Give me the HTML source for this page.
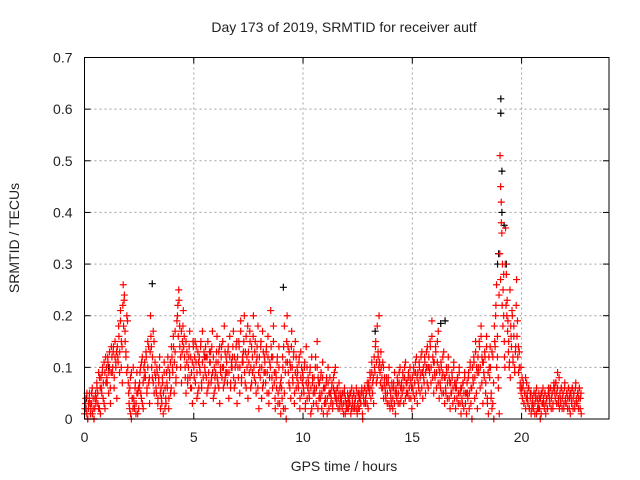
<!DOCTYPE html>
<html><head><meta charset="utf-8"><style>
body{margin:0;background:#fff}
svg{display:block;font-family:"Liberation Sans",sans-serif}
</style></head><body>
<svg id="chart" width="640" height="480" viewBox="0 0 640 480">
<text x="344" y="32" font-size="14" text-anchor="middle" fill="#222">Day 173 of 2019, SRMTID for receiver autf</text>
<text transform="translate(19,238) rotate(-90)" font-size="14" text-anchor="middle" fill="#222">SRMTID / TECUs</text>
<text x="344" y="471" font-size="14" text-anchor="middle" fill="#222">GPS time / hours</text>
<g id="grid"></g>
<g id="ticks"></g>
<g id="black"></g>
<g id="red"></g>
<rect x="84.5" y="57.5" width="524.5" height="361.5" fill="none" stroke="#000" stroke-width="1"/>
</svg>
<script>
const xTicks=[0,5,10,15,20];
const yTicks=[0,0.1,0.2,0.3,0.4,0.5,0.6,0.7];
const yTickLabels=["0","0.1","0.2","0.3","0.4","0.5","0.6","0.7"];
const binWidth=0.25;
const binStarts=[0,0.25,0.5,0.75,1,1.25,1.5,1.75,2,2.25,2.5,2.75,3,3.25,3.5,3.75,4,4.25,4.5,4.75,5,5.25,5.5,5.75,6,6.25,6.5,6.75,7,7.25,7.5,7.75,8,8.25,8.5,8.75,9,9.25,9.5,9.75,10,10.25,10.5,10.75,11,11.25,11.5,11.75,12,12.25,12.5,12.75,13,13.25,13.5,13.75,14,14.25,14.5,14.75,15,15.25,15.5,15.75,16,16.25,16.5,16.75,17,17.25,17.5,17.75,18,18.25,18.5,18.75,19,19.25,19.5,19.75,20,20.25,20.5,20.75,21,21.25,21.5,21.75,22,22.25,22.5];
const redValues=[
[0.02,0.04,0.01,0.0,0.03,0.05],[0.01,0.03,0.06,0.02,0.0,0.04],[0.03,0.07,0.05,0.02,0.08,0.01],[0.06,0.09,0.04,0.11,0.02,0.07],
[0.08,0.12,0.05,0.1,0.03,0.14],[0.09,0.13,0.06,0.15,0.11,0.04],[0.12,0.18,0.09,0.21,0.15,0.07],[0.26,0.23,0.17,0.13,0.2,0.1],
[0.05,0.02,0.08,0.0,0.04,0.1],[0.03,0.06,0.01,0.09,0.05,0.02],[0.07,0.1,0.04,0.12,0.02,0.08],[0.09,0.13,0.05,0.15,0.07,0.03],
[0.2,0.14,0.08,0.17,0.05,0.11],[0.06,0.1,0.03,0.08,0.12,0.02],[0.04,0.08,0.01,0.11,0.06,0.03],[0.07,0.12,0.02,0.09,0.05,0.14],
[0.1,0.16,0.05,0.13,0.08,0.19],[0.22,0.25,0.18,0.12,0.07,0.15],[0.21,0.16,0.1,0.05,0.13,0.08],[0.12,0.17,0.06,0.09,0.03,0.14],
[0.08,0.15,0.11,0.04,0.13,0.06],[0.1,0.14,0.07,0.17,0.03,0.12],[0.09,0.12,0.05,0.15,0.07,0.11],[0.13,0.08,0.17,0.04,0.1,0.06],
[0.11,0.16,0.07,0.13,0.03,0.09],[0.14,0.1,0.06,0.18,0.08,0.12],[0.09,0.13,0.04,0.16,0.07,0.11],[0.12,0.17,0.06,0.1,0.14,0.03],
[0.1,0.15,0.05,0.19,0.08,0.12],[0.13,0.2,0.07,0.16,0.1,0.04],[0.11,0.17,0.06,0.14,0.09,0.2],[0.08,0.15,0.05,0.12,0.18,0.02],
[0.1,0.14,0.04,0.17,0.07,0.12],[0.09,0.13,0.05,0.16,0.03,0.11],[0.21,0.12,0.06,0.15,0.09,0.02],[0.08,0.11,0.03,0.14,0.06,0.01],
[0.06,0.12,0.02,0.18,0.09,0.0],[0.2,0.14,0.07,0.11,0.04,0.17],[0.08,0.12,0.03,0.15,0.06,0.1],[0.07,0.11,0.02,0.13,0.05,0.09],
[0.06,0.1,0.02,0.14,0.04,0.08],[0.05,0.09,0.01,0.12,0.07,0.03],[0.06,0.1,0.03,0.15,0.08,0.04],[0.05,0.08,0.02,0.11,0.06,0.03],
[0.04,0.07,0.01,0.1,0.05,0.08],[0.03,0.06,0.02,0.08,0.05,0.1],[0.04,0.06,0.02,0.07,0.03,0.05],[0.03,0.05,0.01,0.06,0.04,0.02],
[0.02,0.04,0.03,0.05,0.01,0.06],[0.03,0.05,0.02,0.04,0.06,0.01],[0.02,0.04,0.05,0.03,0.06,0.0],[0.04,0.06,0.03,0.05,0.07,0.02],
[0.06,0.09,0.04,0.11,0.07,0.03],[0.1,0.14,0.07,0.18,0.12,0.2],[0.09,0.13,0.06,0.11,0.04,0.08],[0.05,0.08,0.03,0.07,0.1,0.02],
[0.04,0.07,0.02,0.06,0.09,0.01],[0.05,0.08,0.03,0.07,0.1,0.04],[0.06,0.09,0.03,0.08,0.11,0.05],[0.05,0.08,0.04,0.1,0.07,0.02],
[0.06,0.1,0.04,0.09,0.12,0.03],[0.07,0.11,0.05,0.09,0.13,0.04],[0.08,0.12,0.05,0.1,0.14,0.06],[0.1,0.15,0.07,0.19,0.12,0.05],
[0.09,0.14,0.06,0.11,0.17,0.04],[0.07,0.11,0.05,0.09,0.13,0.03],[0.06,0.1,0.04,0.12,0.08,0.02],[0.05,0.09,0.03,0.11,0.07,0.02],
[0.06,0.08,0.03,0.1,0.05,0.01],[0.04,0.07,0.02,0.09,0.05,0.01],[0.05,0.08,0.02,0.11,0.06,0.0],[0.08,0.12,0.04,0.15,0.1,0.02],
[0.1,0.15,0.06,0.18,0.12,0.03],[0.09,0.13,0.05,0.16,0.03,0.01],[0.1,0.14,0.04,0.02,0.12,0.0],[0.15,0.2,0.26,0.12,0.06,0.01],
[0.51,0.45,0.42,0.36,0.3,0.25,0.2,0.15,0.1],[0.37,0.28,0.23,0.19,0.15,0.11,0.08],[0.16,0.21,0.12,0.18,0.09,0.14],[0.27,0.19,0.14,0.1,0.07,0.05],
[0.08,0.06,0.03,0.05,0.02,0.07],[0.04,0.06,0.02,0.05,0.01,0.03],[0.03,0.05,0.01,0.04,0.06,0.02],[0.02,0.04,0.0,0.05,0.03,0.06],
[0.03,0.05,0.01,0.04,0.02,0.06],[0.04,0.06,0.02,0.05,0.03,0.07],[0.05,0.07,0.03,0.09,0.04,0.02],[0.04,0.06,0.02,0.05,0.03,0.07],
[0.03,0.05,0.02,0.06,0.04,0.01],[0.04,0.06,0.02,0.05,0.03,0.07],[0.03,0.05,0.02,0.06,0.04,0.01]];
const redValues2=[
[0.01,0.03,0.02,0.05,0.0,0.02,0.04],[0.03,0.02,0.05,0.01,0.04,0.0,0.02],[0.05,0.04,0.06,0.03,0.09,0.02,0.06],[0.08,0.05,0.1,0.07,0.03,0.09,0.12],
[0.1,0.07,0.11,0.09,0.13,0.06,0.09],[0.12,0.1,0.14,0.08,0.12,0.1,0.13],[0.14,0.11,0.16,0.13,0.19,0.1,0.14],[0.22,0.18,0.24,0.15,0.12,0.09,0.19],
[0.07,0.03,0.06,0.01,0.09,0.04,0.02],[0.04,0.02,0.07,0.03,0.05,0.01,0.06],[0.06,0.09,0.05,0.11,0.03,0.07,0.1],[0.11,0.08,0.12,0.06,0.1,0.14,0.08],
[0.13,0.16,0.1,0.12,0.07,0.15,0.09],[0.08,0.05,0.09,0.04,0.07,0.1,0.05],[0.06,0.03,0.07,0.05,0.09,0.02,0.04],[0.09,0.06,0.1,0.04,0.08,0.11,0.06],
[0.12,0.09,0.14,0.11,0.17,0.07,0.1],[0.2,0.16,0.23,0.14,0.1,0.17,0.13],[0.18,0.14,0.12,0.08,0.15,0.11,0.07],[0.1,0.14,0.08,0.12,0.06,0.11,0.15],
[0.1,0.12,0.07,0.14,0.09,0.05,0.11],[0.12,0.09,0.15,0.06,0.11,0.08,0.13],[0.1,0.14,0.08,0.12,0.06,0.09,0.13],[0.11,0.07,0.14,0.09,0.12,0.05,0.08],
[0.09,0.13,0.08,0.11,0.06,0.14,0.1],[0.12,0.08,0.15,0.1,0.07,0.13,0.09],[0.11,0.07,0.14,0.09,0.12,0.06,0.1],[0.1,0.14,0.08,0.12,0.07,0.11,0.15],
[0.12,0.08,0.14,0.1,0.17,0.07,0.11],[0.11,0.15,0.09,0.13,0.06,0.12,0.18],[0.13,0.09,0.15,0.1,0.07,0.12,0.16],[0.1,0.13,0.07,0.11,0.14,0.06,0.09],
[0.12,0.08,0.15,0.1,0.06,0.13,0.09],[0.11,0.07,0.14,0.09,0.12,0.05,0.08],[0.1,0.14,0.08,0.12,0.18,0.07,0.04],[0.09,0.06,0.12,0.05,0.1,0.03,0.07],
[0.08,0.04,0.1,0.14,0.05,0.02,0.11],[0.15,0.11,0.09,0.13,0.06,0.1,0.14],[0.1,0.07,0.13,0.05,0.09,0.12,0.08],[0.09,0.06,0.12,0.04,0.08,0.1,0.07],
[0.08,0.05,0.11,0.03,0.07,0.1,0.06],[0.07,0.04,0.1,0.06,0.02,0.08,0.05],[0.08,0.05,0.12,0.06,0.1,0.02,0.07],[0.07,0.04,0.09,0.05,0.08,0.01,0.06],
[0.06,0.03,0.08,0.04,0.07,0.02,0.05],[0.05,0.04,0.07,0.03,0.06,0.09,0.04],[0.05,0.03,0.06,0.04,0.05,0.02,0.04],[0.04,0.02,0.05,0.03,0.05,0.01,0.03],
[0.03,0.05,0.02,0.04,0.03,0.05,0.02],[0.04,0.02,0.05,0.03,0.04,0.02,0.05],[0.03,0.05,0.02,0.04,0.03,0.05,0.01],[0.05,0.03,0.06,0.04,0.05,0.03,0.06],
[0.07,0.05,0.08,0.06,0.09,0.05,0.08],[0.12,0.09,0.15,0.11,0.08,0.13,0.1],[0.11,0.07,0.1,0.08,0.06,0.1,0.07],[0.06,0.04,0.07,0.05,0.08,0.03,0.06],
[0.05,0.03,0.06,0.04,0.07,0.03,0.05],[0.06,0.04,0.07,0.05,0.09,0.03,0.06],[0.07,0.05,0.08,0.06,0.1,0.04,0.07],[0.07,0.05,0.09,0.06,0.08,0.04,0.06],
[0.08,0.05,0.09,0.07,0.11,0.05,0.08],[0.09,0.06,0.1,0.08,0.12,0.06,0.09],[0.1,0.07,0.11,0.09,0.13,0.07,0.1],[0.12,0.09,0.14,0.1,0.16,0.08,0.11],
[0.11,0.08,0.13,0.09,0.15,0.07,0.1],[0.09,0.06,0.1,0.08,0.12,0.05,0.08],[0.08,0.05,0.09,0.07,0.1,0.04,0.07],[0.07,0.05,0.08,0.06,0.1,0.04,0.06],
[0.07,0.04,0.08,0.05,0.09,0.03,0.06],[0.06,0.03,0.07,0.05,0.08,0.03,0.05],[0.07,0.04,0.09,0.05,0.1,0.03,0.06],[0.1,0.07,0.11,0.08,0.13,0.05,0.09],
[0.12,0.09,0.14,0.1,0.16,0.07,0.11],[0.11,0.08,0.12,0.07,0.14,0.04,0.09],[0.12,0.08,0.1,0.05,0.13,0.03,0.07],[0.18,0.14,0.22,0.1,0.16,0.08,0.24],
[0.32,0.27,0.38,0.22,0.18,0.28,0.12],[0.3,0.22,0.2,0.17,0.13,0.1,0.25],[0.18,0.14,0.2,0.11,0.16,0.1,0.13],[0.22,0.16,0.12,0.09,0.13,0.06,0.1],
[0.06,0.04,0.07,0.03,0.05,0.08,0.04],[0.05,0.03,0.06,0.02,0.04,0.05,0.02],[0.04,0.02,0.05,0.03,0.05,0.01,0.04],[0.03,0.05,0.02,0.04,0.01,0.05,0.03],
[0.04,0.02,0.05,0.03,0.04,0.02,0.05],[0.05,0.03,0.06,0.04,0.05,0.02,0.06],[0.06,0.04,0.07,0.05,0.06,0.03,0.08],[0.05,0.03,0.06,0.04,0.05,0.02,0.06],
[0.04,0.03,0.05,0.04,0.06,0.02,0.05],[0.05,0.03,0.06,0.04,0.05,0.02,0.06],[0.04,0.03,0.05,0.04,0.06,0.02,0.05]];
const blackHours=[3.1,9.1,19.05,19.05,19.1,19.1,19.2,18.95,18.9,19.3,16.3,16.5,13.3,1.1,5.5,0.1];
const blackValues=[0.262,0.255,0.62,0.592,0.48,0.40,0.375,0.32,0.3,0.3,0.185,0.19,0.17,0.1,0.12,0.04];

const L=84.5,R=609,T=57.5,B=419;
const xS=h=>L+h*(R-L)/24;
const yS=v=>B-v*(B-T)/0.7;
const NS='http://www.w3.org/2000/svg';
function mk(tag,attrs,parent){const e=document.createElementNS(NS,tag);for(const k in attrs)e.setAttribute(k,attrs[k]);parent.appendChild(e);return e;}
const grid=document.getElementById('grid'),ticks=document.getElementById('ticks');
xTicks.forEach(t=>{
  const x=xS(t);
  if(t>0){const g=mk('line',{x1:x,x2:x,y1:T,y2:B,stroke:'#a0a0a0','stroke-dasharray':'2,3'},grid);
  
  }
  mk('line',{x1:x,x2:x,y1:B,y2:B-6,stroke:'#000'},ticks);
  mk('line',{x1:x,x2:x,y1:T,y2:T+6,stroke:'#000'},ticks);
  const tx=mk('text',{x:x,y:B+23,'font-size':14,'text-anchor':'middle',fill:'#222'},ticks);
  tx.textContent=t;
  
  
});
yTicks.forEach((v,i)=>{
  const y=yS(v);
  if(v>0&&v<0.7){const g=mk('line',{x1:L,x2:R,y1:y,y2:y,stroke:'#a0a0a0','stroke-dasharray':'2,3'},grid);
  
  }
  mk('line',{x1:L,x2:L+6,y1:y,y2:y,stroke:'#000'},ticks);
  mk('line',{x1:R,x2:R-6,y1:y,y2:y,stroke:'#000'},ticks);
  const tx=mk('text',{x:L-12,y:y+5,'font-size':14,'text-anchor':'end',fill:'#222'},ticks);
  tx.textContent=yTickLabels[i];
  
  
});
function cross(h,v,col,parent){
  const x=xS(h),y=yS(v);
  return mk('path',{d:`M${x-3.5},${y}H${x+3.5}M${x},${y-3.5}V${y+3.5}`,stroke:col,'stroke-width':1.2,fill:'none'},parent);
}
const bg=document.getElementById('black');
blackHours.forEach((h,i)=>{
  const p=cross(h,blackValues[i],'#000',bg);
  
  
});
const rg=document.getElementById('red');
function drawSet(set,offset){
  binStarts.forEach((b,i)=>{
    const vals=set[i];
    vals.forEach((v,j)=>{
      const p=cross(b+(j+offset)*binWidth/vals.length,v,'#ff0000',rg);
      
      
    });
  });
}
drawSet(redValues,0.5);
drawSet(redValues2,0.1);
</script>
</body></html>
